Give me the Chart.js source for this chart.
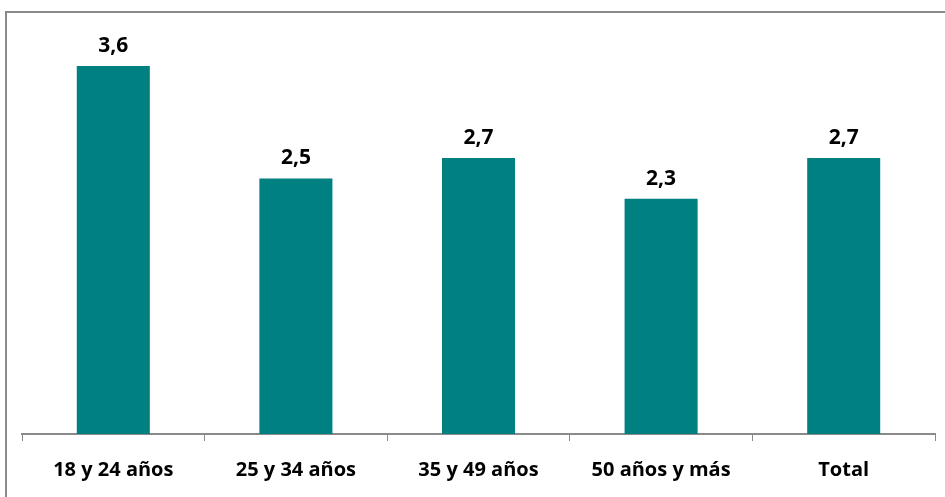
<!DOCTYPE html>
<html>
<head>
<meta charset="utf-8">
<script src="https://cdn.jsdelivr.net/npm/chart.js@4/dist/chart.umd.min.js"></script>
<style>
  html, body { margin: 0; padding: 0; background: #fff; }
  #wrap { position: relative; width: 945px; height: 497px; overflow: hidden; }
  #frame { position: absolute; left: 5px; top: 11px; width: 960px; height: 520px;
           border-left: 2px solid #8a8a8a; border-top: 2px solid #8a8a8a; box-sizing: border-box; }
  canvas { position: absolute; left: 0; top: 0; }
</style>
</head>
<body>
<div id="wrap">
  <div id="frame"></div>
  <canvas id="chart" width="945" height="505"></canvas>
</div>
<script>
// Data
const categories = ['18 y 24 años', '25 y 34 años', '35 y 49 años', '50 años y más', 'Total'];
const values = [3.6, 2.5, 2.7, 2.3, 2.7];

const FONT = '"Open Sans", "Noto Sans", sans-serif';

// value labels above bars
const valueLabels = {
    id: 'valueLabels',
    afterDatasetsDraw(chart) {
        const ctx = chart.ctx;
        const meta = chart.getDatasetMeta(0);
        ctx.save();
        ctx.font = 'bold 21px ' + FONT;
        ctx.fillStyle = '#000';
        ctx.textAlign = 'center';
        ctx.textBaseline = 'alphabetic';
        meta.data.forEach((bar, i) => {
            const txt = values[i].toFixed(1).replace('.', ',');
            ctx.fillText(txt, bar.x, bar.y - 14);
        });
        ctx.restore();
    }
};

new Chart(document.getElementById('chart').getContext('2d'), {
    type: 'bar',
    data: {
        labels: categories,
        datasets: [{
            data: values,
            backgroundColor: '#008080',
            borderWidth: 0,
            barPercentage: 0.4,
            categoryPercentage: 1.0
        }]
    },
    options: {
        responsive: false,
        animation: false,
        layout: { padding: { left: 22, right: 10, top: 25, bottom: 6 } },
        plugins: { legend: { display: false }, tooltip: { enabled: false } },
        scales: {
            x: {
                offset: true,
                grid: { display: true, drawOnChartArea: false, tickLength: 7, color: '#8a8a8a', offset: true },
                border: { color: '#8a8a8a', width: 2 },
                ticks: { color: '#000', font: { family: FONT, size: 20, weight: 'bold' }, padding: 17 }
            },
            y: {
                display: false,
                min: 0,
                max: 4
            }
        }
    },
    plugins: [valueLabels]
});
</script>
</body>
</html>
